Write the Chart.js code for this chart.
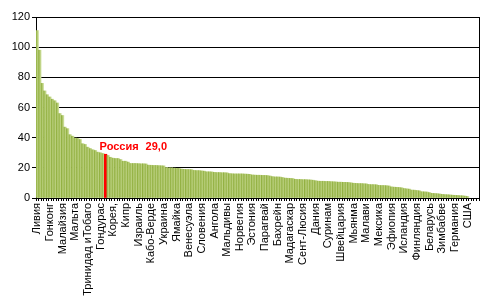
<!DOCTYPE html>
<html><head><meta charset="utf-8">
<script src="https://cdn.jsdelivr.net/npm/chart.js@4"></script>
<style>html,body{margin:0;padding:0;background:#fff}#wrap{width:493px;height:300px}</style>
</head><body><div id="wrap"><canvas id="c" width="493" height="300"></canvas></div>
<script>
const tickLabels = ['Ливия','Гонконг','Малайзия','Мальта','Тринидад иТобаго','Гондурас','Корея,','Кипр','Израиль','Кабо-Верде','Украина','Ямайка','Венесуэла','Словения','Ангола','Мальдивы','Норвегия','Эстония','Парагвай','Бахрейн','Мадагаскар','Сент-Люсия','Дания','Суринам','Швейцария','Мьянма','Малави','Мексика','Эфиопия','Исландия','Финляндия','Беларусь','Зимбабве','Германия','США'];
const labelStep = 5;
const values = [111,98,76,71,68.5,67,65.5,64.5,63,56,54.7,47,46,42,41,39.7,39.5,38.8,36,35.5,33.7,32.8,32,31.5,30.4,30,29.5,29.0,
28.2,27,26.4,26.2,26.2,25.5,24.4,24.4,23.8,22.9,22.9,22.9,22.8,22.7,22.7,22.6,21.8,21.7,21.6,21.6,21.5,21.4,21.3,
20.2,20.0,20.0,19.8,19.6,19.6,19.2,19.0,18.9,18.9,18.8,18.3,18.2,18.2,18.0,17.8,17.4,17.4,17.3,17.0,16.9,16.9,16.8,16.8,16.7,
16.2,16.1,16.0,16.0,16.0,16.0,15.9,15.8,15.7,15.3,15.2,15.1,15.1,15.0,15.0,14.9,14.6,14.2,14.0,14.0,13.9,13.6,13.2,13.1,13.0,12.9,
12.4,12.3,12.3,12.2,12.2,12.1,12.0,11.8,11.5,11.2,11.1,11.1,11.0,11.0,10.9,10.8,10.7,10.5,10.5,10.4,10.4,10.3,10.1,
9.8,9.7,9.6,9.6,9.5,9.4,9.0,8.9,8.9,8.8,8.4,8.3,8.3,8.2,8.0,7.4,7.2,7.1,7.0,6.8,6.3,6.1,5.9,5.3,5.2,5.0,4.8,4.2,4.1,4.0,
3.6,3.1,3.0,2.9,2.7,2.4,2.3,2.2,2.1,1.9,1.8,1.7,1.6,1.5,1.3,1.0,null,null,null,null];
const highlightIndex = 27;
const highlightName = 'Россия';
const yTicks = [0,20,40,60,80,100,120];

const categories = values.map((v,i)=> i % labelStep === 0 ? (tickLabels[i/labelStep] || '') : '');
const FONT = 'Arial, "Liberation Sans", sans-serif';

function barColor(ctx){
  if (ctx.dataIndex === highlightIndex) return '#ff0000';
  const chart = ctx.chart, xs = chart.scales.x;
  if (!xs || !chart.chartArea) return '#adc66a';
  const x = xs.getPixelForValue(ctx.dataIndex);
  const w = xs.width / values.length;
  const g = chart.ctx.createLinearGradient(x - w/2, 0, x + w/2, 0);
  g.addColorStop(0, '#8fae3c');
  g.addColorStop(1, '#cfe09e');
  return g;
}

const annot = {
  id:'annot',
  afterDatasetsDraw(chart){
    const c = chart.ctx, xs = chart.scales.x, ys = chart.scales.y;
    const x = xs.getPixelForValue(highlightIndex) - 6;
    const y = ys.getPixelForValue(values[highlightIndex]) - 4;
    c.save();
    c.fillStyle = '#ff0000';
    c.font = 'bold 11px ' + FONT;
    c.textBaseline = 'alphabetic';
    c.fillText(highlightName, x, y);
    c.fillText(values[highlightIndex].toFixed(1).replace('.', ','), x + 46, y);
    c.restore();
  }
};

new Chart(document.getElementById('c'), {
  type:'bar',
  data:{ labels: categories, datasets:[{ data: values, backgroundColor: barColor, borderWidth:0, barPercentage:1, categoryPercentage:1 }]},
  options:{
    responsive:false, animation:false,
    layout:{ padding:{ left:0, right:12, top:17, bottom:0 } },
    plugins:{ legend:{display:false}, tooltip:{enabled:false} },
    scales:{
      x:{
        grid:{ display:true, drawOnChartArea:false, color:'#000', tickLength:3 },
        border:{ color:'#000', width:1 },
        ticks:{ autoSkip:false, maxRotation:90, minRotation:90, padding:2, color:'#000', font:{ family:FONT, size:11 } },
        afterFit(s){ s.height = 102; }
      },
      y:{
        min:0, max:120,
        afterBuildTicks(s){ s.ticks = yTicks.map(v=>({value:v})); },
        grid:{ color:'#000', tickLength:4 },
        border:{ color:'#000', width:1 },
        ticks:{ padding:2, color:'#000', font:{ family:FONT, size:11 } },
        afterFit(s){ s.width = 36; }
      },
      y2:{
        position:'right', min:0, max:120,
        grid:{ drawOnChartArea:false, drawTicks:false },
        border:{ color:'#000', width:1 },
        ticks:{ display:false },
        afterFit(s){ s.width = 0; }
      }
    }
  },
  plugins:[annot]
});
</script></body></html>
